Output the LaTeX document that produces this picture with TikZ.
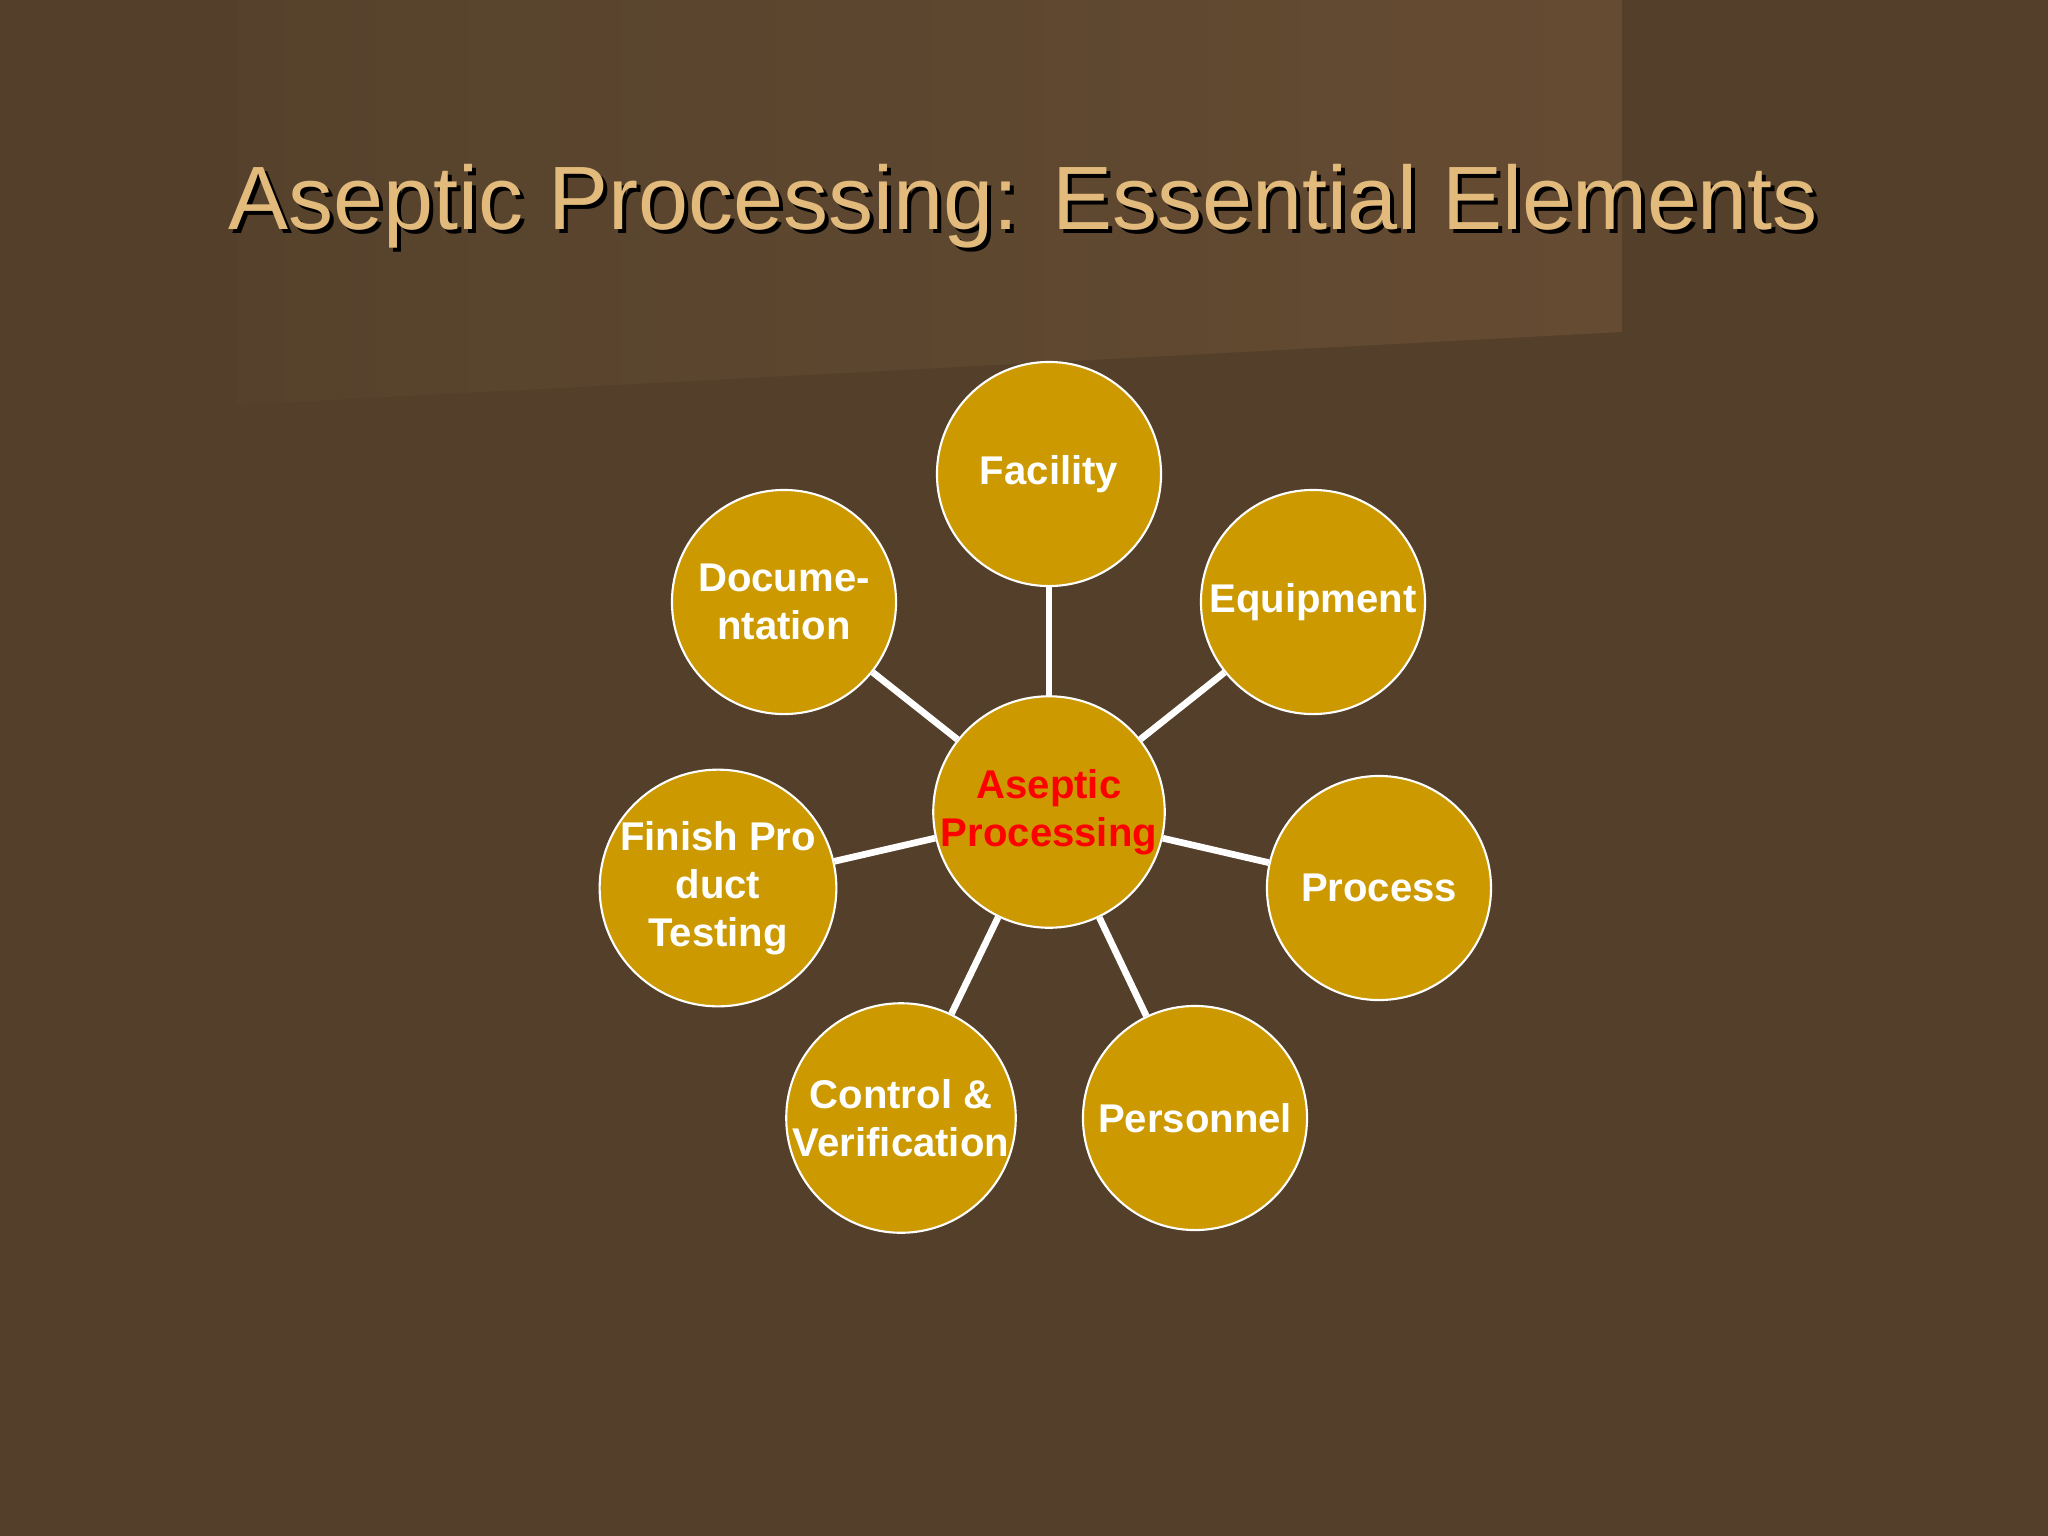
\documentclass[tikz,border=0pt]{standalone}
\usepackage{fontspec}
\setmainfont{Liberation Sans}
\definecolor{bgbrown}{HTML}{54402A}
\definecolor{panelleft}{HTML}{56422C}
\definecolor{panelright}{HTML}{654B32}
\definecolor{gold}{HTML}{CC9900}
\definecolor{titletan}{HTML}{E2BA7C}

\begin{document}
\begin{tikzpicture}[x=0.01cm, y=-0.01cm]
		\tikzset{elem/.style={circle, draw=white, line width=0.6pt, fill=gold, minimum size=2.24cm, inner sep=0pt, align=center, text=white, font=\fontsize{11.4}{13.6}\selectfont\bfseries, execute at begin node=\vspace*{0.12cm}}};
		\tikzset{link/.style={draw=white, line width=1.9pt}};
		\tikzset{head/.style={anchor=base, font=\fontsize{25.6}{31}\selectfont}};

		% background
		\useasboundingbox (0, 0) rectangle (2048, 1536);
		\fill[bgbrown] (0, 0) rectangle (2048, 1536);
		\shade[left color=panelleft, right color=panelright] (237, 0) -- (1622, 0) -- (1622, 332) -- (237, 405) -- cycle;

		% title
		\node[head, text=black] at (1027, 233) {Aseptic Processing: Essential Elements};
		\node[head, text=titletan] (title) at (1023, 229) {Aseptic Processing: Essential Elements};

		\node[elem, text=red] (ap) at (1049, 812) {Aseptic\\Processing};
		\node[elem] (fac) at (1049, 474) {Facility};
		\node[elem] (equ) at (1313, 602) {Equipment};
		\node[elem] (pro) at (1379, 888) {Process};
		\node[elem] (per) at (1195, 1118) {Personnel};
		\node[elem] (con) at (901, 1118) {Control \&\\Verification};
		\node[elem] (fin) at (718, 888) {Finish Pro\\duct\\Testing};
		\node[elem] (doc) at (784, 602) {Docume-\\ntation};

		\draw[link] (ap) to (fac);
		\draw[link] (ap) to (equ);
		\draw[link] (ap) to (pro);
		\draw[link] (ap) to (per);
		\draw[link] (ap) to (con);
		\draw[link] (ap) to (fin);
		\draw[link] (ap) to (doc);
	\end{tikzpicture}
\end{document}
